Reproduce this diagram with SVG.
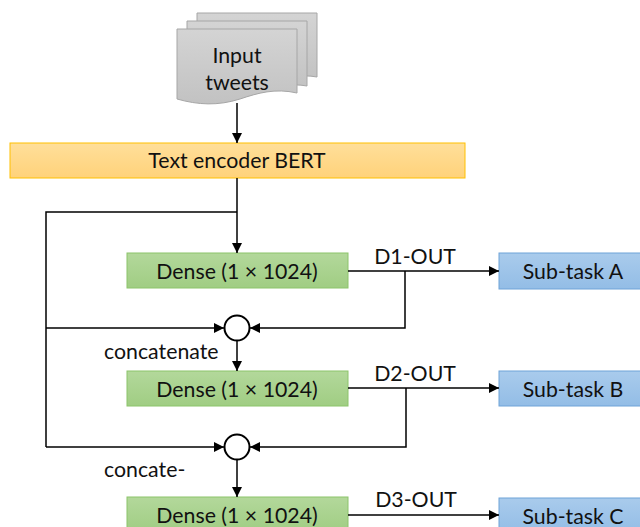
<svg xmlns="http://www.w3.org/2000/svg" width="640" height="527" viewBox="0 0 640 527">
<defs>
<linearGradient id="gDoc" x1="0" y1="0" x2="0" y2="1"><stop offset="0" stop-color="#d4d4d4"/><stop offset="1" stop-color="#c2c2c2"/></linearGradient>
<linearGradient id="gBert" x1="0" y1="0" x2="0" y2="1"><stop offset="0" stop-color="#ffdf9a"/><stop offset="1" stop-color="#ffd27a"/></linearGradient>
<linearGradient id="gDense" x1="0" y1="0" x2="0" y2="1"><stop offset="0" stop-color="#b3d89b"/><stop offset="1" stop-color="#a0cd83"/></linearGradient>
<linearGradient id="gSub" x1="0" y1="0" x2="0" y2="1"><stop offset="0" stop-color="#a9cbec"/><stop offset="1" stop-color="#93bde6"/></linearGradient>
<marker id="arr" viewBox="0 0 10 10" refX="10" refY="5" markerWidth="10" markerHeight="10" markerUnits="userSpaceOnUse" orient="auto"><path d="M0,0 L10,5 L0,10 Z" fill="#000"/></marker>
</defs>
<style>
.doc{fill:url(#gDoc);stroke:#a6a6a6;stroke-width:1}
.bert{fill:url(#gBert);stroke:#ffc000;stroke-width:1}
.dense{fill:url(#gDense);stroke:#8cc46a;stroke-width:1}
.sub{fill:url(#gSub);stroke:#6fa3d8;stroke-width:1}
.t{font-family:Lato,"Open Sans","Liberation Sans",sans-serif;font-size:21.3px;fill:#111}
.c{text-anchor:middle}
.ln{fill:none;stroke:#000;stroke-width:1.5}
.cir{fill:#fff;stroke:#000;stroke-width:2}
</style>
<g id="input-tweets">
<path class="doc" d="M197,13 H317 V77 C300,74 290,78 280,80 L197,80 Z"/>
<path class="doc" d="M187,21 H307 V86 C290,83 280,87 270,89 L187,89 Z"/>
<path class="doc" d="M177,29 H297 V93 C275,88 258,93 240,99 C218,106 198,105 177,99 Z"/>
<text class="t c" x="237" y="63">Input</text>
<text class="t c" x="237" y="90">tweets</text>
</g>
<g id="bert">
<rect class="bert" x="10" y="143" width="455" height="35"/>
<text class="t c" x="237" y="168">Text encoder BERT</text>
</g>
<g id="dense1">
<rect class="dense" x="127" y="253" width="221" height="35"/>
<text class="t c" x="237" y="279">Dense (1 × 1024)</text>
</g>
<g id="dense2">
<rect class="dense" x="127" y="371" width="221" height="35"/>
<text class="t c" x="237" y="397">Dense (1 × 1024)</text>
</g>
<g id="dense3">
<rect class="dense" x="127" y="497" width="221" height="35"/>
<text class="t c" x="237" y="523">Dense (1 × 1024)</text>
</g>
<g id="subA">
<rect class="sub" x="499" y="253" width="150" height="36"/>
<text class="t c" x="573" y="279">Sub-task A</text>
</g>
<g id="subB">
<rect class="sub" x="499" y="371" width="150" height="35"/>
<text class="t c" x="573" y="397">Sub-task B</text>
</g>
<g id="subC">
<rect class="sub" x="499" y="498" width="150" height="35"/>
<text class="t c" x="573" y="524">Sub-task C</text>
</g>
<g id="concat1">
<circle class="cir" cx="237" cy="328" r="12.5"/>
</g>
<g id="concat2">
<circle class="cir" cx="237" cy="447" r="12.5"/>
</g>
<g id="connectors">
<line class="ln" x1="237" y1="103" x2="237" y2="143" marker-end="url(#arr)"/>
<line class="ln" x1="237" y1="178" x2="237" y2="253" marker-end="url(#arr)"/>
<polyline class="ln" points="237,212 46,212 46,447"/>
<line class="ln" x1="46" y1="328" x2="224" y2="328" marker-end="url(#arr)"/>
<line class="ln" x1="46" y1="447" x2="224" y2="447" marker-end="url(#arr)"/>
<line class="ln" x1="348" y1="271" x2="499" y2="271" marker-end="url(#arr)"/>
<polyline class="ln" points="405,271 405,328 250,328" marker-end="url(#arr)"/>
<line class="ln" x1="237" y1="341" x2="237" y2="371" marker-end="url(#arr)"/>
<line class="ln" x1="348" y1="388" x2="499" y2="388" marker-end="url(#arr)"/>
<polyline class="ln" points="406,388 406,447 250,447" marker-end="url(#arr)"/>
<line class="ln" x1="237" y1="460" x2="237" y2="497" marker-end="url(#arr)"/>
<line class="ln" x1="348" y1="515" x2="499" y2="515" marker-end="url(#arr)"/>
<text class="t c" x="415" y="264">D1-OUT</text>
<text class="t c" x="415" y="381">D2-OUT</text>
<text class="t c" x="416" y="507">D3-OUT</text>
<text class="t" x="104" y="359">concatenate</text>
<text class="t" x="104" y="477">concate-</text>
</g>
</svg>
